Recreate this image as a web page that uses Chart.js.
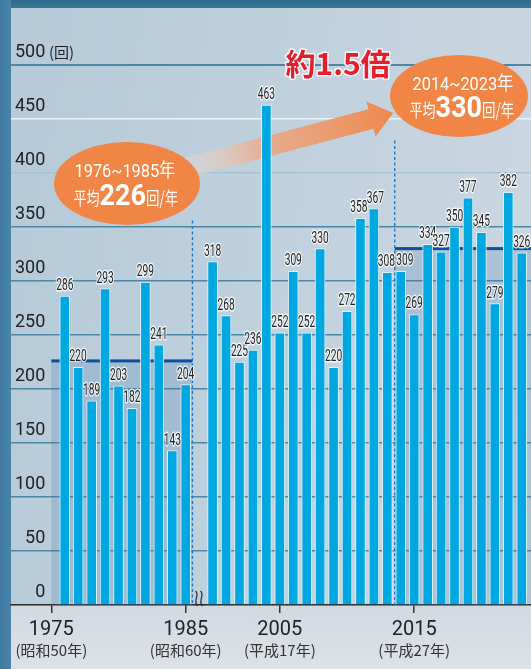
<!DOCTYPE html>
<html><head><meta charset="utf-8">
<script src="https://cdn.jsdelivr.net/npm/chart.js@4/dist/chart.umd.min.js"></script>
<style>
html,body{margin:0;padding:0;background:#cfd9e2;}
#wrap{position:relative;width:531px;height:669px;overflow:hidden;
 background:
  linear-gradient(to right,#3f79a1 0,#4a84aa 11px,transparent 11px),
  linear-gradient(to bottom,#2c6a8a 0,#3a7898 8px,transparent 8px,transparent 606px,#d2d9e0 606px,#dde2e8 669px),
  linear-gradient(100deg,#b5c9d8 0%,#bfd0dd 45%,#c8d5e0 80%,#cfd9e2 100%);}
canvas{display:block;position:absolute;left:0;top:0;}
</style></head><body><div id="wrap"><canvas id="c" width="531" height="669"></canvas></div>
<script>
// ---- data ----
const years = [1976,1977,1978,1979,1980,1981,1982,1983,1984,1985,
  2000,2001,2002,2003,2004,2005,2006,2007,2008,2009,2010,2011,2012,2013,2014,2015,2016,2017,2018,2019,2020,2021,2022,2023];
const counts = [286,220,189,293,203,182,299,241,143,204,
  318,268,225,236,463,252,309,252,330,220,272,358,367,308,309,269,334,327,350,377,345,279,382,326];
const tickYears = [1975,1985,2005,2015];
const tickEras = ['(昭和50年)','(昭和60年)','(平成17年)','(平成27年)'];
const yTicks = [0,50,100,150,200,250,300,350,400,450,500];
const periodStart = [1976,2014];
const periodEnd = [1985,2023];
const periodAvg = [226,330];
const periodText = ['1976~1985年','2014~2023年'];
const ratioText = '約1.5倍';

// axis break: years up to 1985 then one empty slot, then 2000 onward
function slot(y){ return y <= 1985 ? y - 1975 : y - 2000 + 12; }

const FONT = 'Roboto, "Noto Sans CJK JP", sans-serif';
const NARROW = '"Liberation Sans Narrow", Roboto, "Noto Sans CJK JP", sans-serif';
const labelNudge = {2011:-1.5, 2012:1.5, 2013:-1, 2014:4};

function segText(ctx, segs, cx, base, color){
  let total = 0;
  segs.forEach(s => { ctx.font = s.font; s.w = ctx.measureText(s.t).width * s.sx; total += s.w; });
  let x = cx - total/2;
  ctx.fillStyle = color; ctx.textBaseline = 'alphabetic'; ctx.textAlign = 'left';
  segs.forEach(s => { ctx.save(); ctx.font = s.font; ctx.translate(x, base); ctx.scale(s.sx,1); ctx.fillText(s.t,0,0); ctx.restore(); x += s.w; });
}

const backPlugin = {
  id:'back',
  beforeDatasetsDraw(chart){
    const ctx = chart.ctx, xs = chart.scales.x, ys = chart.scales.y, ca = chart.chartArea;
    ctx.save();
    // average bands
    periodStart.forEach((ps,i) => {
      const xl = i === 0 ? xs.getPixelForValue(slot(ps) - 1) : xs.getPixelForValue(slot(ps) - 0.45);
      const xr = i === 0 ? xs.getPixelForValue(slot(periodEnd[i]) + 0.5) : ca.right;
      const yt = ys.getPixelForValue(periodAvg[i]), yb = ys.getPixelForValue(0);
      ctx.fillStyle = 'rgba(70,125,175,0.22)';
      ctx.fillRect(xl, yt, xr - xl, yb - yt);
      ctx.fillStyle = '#0d4f9e';
      ctx.fillRect(xl, yt - 1.5, xr - xl, 3);
    });
    // dotted separators
    ctx.strokeStyle = '#2379c4'; ctx.lineWidth = 1.4; ctx.setLineDash([3,2.5]);
    [[slot(1985)+0.5, 356],[slot(2014)-0.45, 430]].forEach(([v,top]) => {
      const x = xs.getPixelForValue(v);
      ctx.beginPath(); ctx.moveTo(x, ys.getPixelForValue(top)); ctx.lineTo(x, ys.getPixelForValue(0)); ctx.stroke();
    });
    ctx.setLineDash([]);
    // arrow
    const x0=182,y0=169,x1=371,y1=119;
    const dx=x1-x0, dy=y1-y0, L=Math.hypot(dx,dy), ux=dx/L, uy=dy/L, nx=-uy, ny=ux;
    const hw=10, hh=18, hl=23;
    const tip=[x1+ux*hl, y1+uy*hl];
    const g = ctx.createLinearGradient(x0,y0,tip[0],tip[1]);
    g.addColorStop(0,'rgba(238,228,224,0.3)');
    g.addColorStop(0.4,'rgba(236,165,128,0.85)');
    g.addColorStop(1,'#ef884c');
    ctx.fillStyle = g;
    ctx.beginPath();
    ctx.moveTo(x0-nx*hw, y0-ny*hw);
    ctx.lineTo(x1-nx*hw, y1-ny*hw);
    ctx.lineTo(x1-nx*hh, y1-ny*hh);
    ctx.lineTo(tip[0], tip[1]);
    ctx.lineTo(x1+nx*hh, y1+ny*hh);
    ctx.lineTo(x1+nx*hw, y1+ny*hw);
    ctx.lineTo(x0+nx*hw, y0+ny*hw);
    ctx.closePath(); ctx.fill();
    ctx.restore();
  },
  afterDatasetsDraw(chart){
    const ctx = chart.ctx, meta = chart.getDatasetMeta(0);
    ctx.save();
    ctx.font = '17px ' + FONT; ctx.textAlign = 'center'; ctx.textBaseline = 'alphabetic';
    meta.data.forEach((bar,i) => {
      const t = String(counts[i]);
      ctx.save(); ctx.translate(bar.x + (labelNudge[years[i]] || 0), bar.y - 6); ctx.scale(0.6,1);
      ctx.lineJoin = 'round'; ctx.strokeStyle = 'rgba(255,255,255,0.8)'; ctx.lineWidth = 3;
      ctx.strokeText(t,0,0);
      ctx.fillStyle = '#222'; ctx.fillText(t,0,0);
      ctx.restore();
    });
    ctx.restore();
  },
  afterDraw(chart){
    const ctx = chart.ctx, xs = chart.scales.x, ys = chart.scales.y;
    ctx.save();
    // unit
    ctx.fillStyle = '#222'; ctx.font = '15px "Noto Sans CJK JP"'; ctx.textAlign='left'; ctx.textBaseline='middle';
    ctx.fillText('(回)', 49, ys.getPixelForValue(500) - 13);
    // axis break (two wavy strokes)
    const bx = xs.getPixelForValue(slot(1985) + 0.5) + 4, by = ys.getPixelForValue(0);
    ctx.strokeStyle = '#333'; ctx.lineWidth = 1.3;
    [bx, bx+5].forEach(x => {
      ctx.beginPath(); ctx.moveTo(x-1, by-14);
      ctx.bezierCurveTo(x+4, by-10, x-4, by-5, x+1, by+1); ctx.stroke();
    });
    // ellipses
    ctx.fillStyle = '#f08546';
    ctx.beginPath(); ctx.ellipse(127,183.5,73,41.5,0,0,Math.PI*2); ctx.fill();
    ctx.beginPath(); ctx.ellipse(459,96,69,41,0,0,Math.PI*2); ctx.fill();
    segText(ctx,[{t:periodText[0],font:'19px '+FONT,sx:0.86}],125,177,'#fff');
    segText(ctx,[{t:'平均',font:'18px "Noto Sans CJK JP"',sx:0.72},{t:String(periodAvg[0]),font:'bold 30px '+FONT,sx:0.9},{t:'回/年',font:'18px "Noto Sans CJK JP"',sx:0.75}],126,205,'#fff');
    segText(ctx,[{t:periodText[1],font:'19px '+FONT,sx:0.86}],463,90,'#fff');
    segText(ctx,[{t:'平均',font:'18px "Noto Sans CJK JP"',sx:0.72},{t:String(periodAvg[1]),font:'bold 30px '+FONT,sx:0.9},{t:'回/年',font:'18px "Noto Sans CJK JP"',sx:0.75}],462,117,'#fff');
    // title
    ctx.font = 'bold 30px "Noto Sans CJK JP"'; ctx.textAlign='center'; ctx.textBaseline='alphabetic';
    ctx.lineJoin='round'; ctx.strokeStyle='rgba(255,255,255,0.85)'; ctx.lineWidth=3;
    ctx.strokeText(ratioText, 338, 75);
    ctx.fillStyle = '#e41f2a'; ctx.fillText(ratioText, 338, 75);
    ctx.restore();
  }
};

const xMin = -3, xMax = 35.69;
const tickIndex = v => tickYears.findIndex(y => slot(y) === v);

new Chart(document.getElementById('c').getContext('2d'), {
  type:'bar',
  data:{ datasets:[{
    data: years.map((y,i) => ({x: slot(y), y: counts[i]})),
    backgroundColor:'#00a7e1', borderColor:'rgba(228,246,255,0.9)', borderWidth:1,
    barThickness:10, borderSkipped:'bottom'
  }]},
  options:{
    responsive:false, animation:false, devicePixelRatio:1,
    layout:{padding:{top:65,left:0,right:0,bottom:0}},
    plugins:{legend:{display:false}, tooltip:{enabled:false}},
    scales:{
      x:{ type:'linear', min:xMin, max:xMax, offset:false, weight:0,
        afterBuildTicks: s => { s.ticks = tickYears.map(y => ({value: slot(y)})); },
        afterFit: s => { s.height = 36; },
        ticks:{ autoSkip:false, maxRotation:0, padding:5, color:'#222',
          font:{family:NARROW, size:20},
          callback: v => { const i = tickIndex(v); return i >= 0 ? String(tickYears[i]) : ''; } },
        grid:{ offset:false, drawOnChartArea:false, drawTicks:true, tickLength:8, color:'#333', lineWidth:1.5 },
        border:{ display:true, color:'#2b2b2b', width:1.5 }
      },
      x2:{ type:'linear', axis:'x', position:'bottom', min:xMin, max:xMax, offset:false, weight:1,
        afterBuildTicks: s => { s.ticks = tickYears.map(y => ({value: slot(y)})); },
        afterFit: s => { s.height = 28; },
        ticks:{ autoSkip:false, maxRotation:0, padding:0, color:'#333',
          font:{family:'"Noto Sans CJK JP", sans-serif', size:15},
          callback: v => { const i = tickIndex(v); return i >= 0 ? tickEras[i] : ''; } },
        grid:{ display:false, drawTicks:false, tickLength:0, offset:false }, border:{ display:false }
      },
      y:{ min:0, max:500, position:'left',
        afterFit: s => { s.width = 11; },
        afterBuildTicks: s => { s.ticks = yTicks.map(v => ({value:v})); },
        ticks:{ mirror:true, crossAlign:'far', padding:4, labelOffset:-13, color:'#222',
          font:{family:FONT, size:18} },
        grid:{ drawTicks:false,
          color: c => { const v = c.tick ? c.tick.value : -1;
            if (v === 0) return 'rgba(0,0,0,0)';
            if (v === 450) return 'rgba(238,245,250,0.95)';
            if (v === 400) return 'rgba(165,195,214,0.95)';
            return '#4e86a5'; },
          lineWidth: c => (c.tick && c.tick.value === 500) ? 2 : 1.6 },
        border:{ display:false }
      }
    }
  },
  plugins:[backPlugin]
});
</script></body></html>
